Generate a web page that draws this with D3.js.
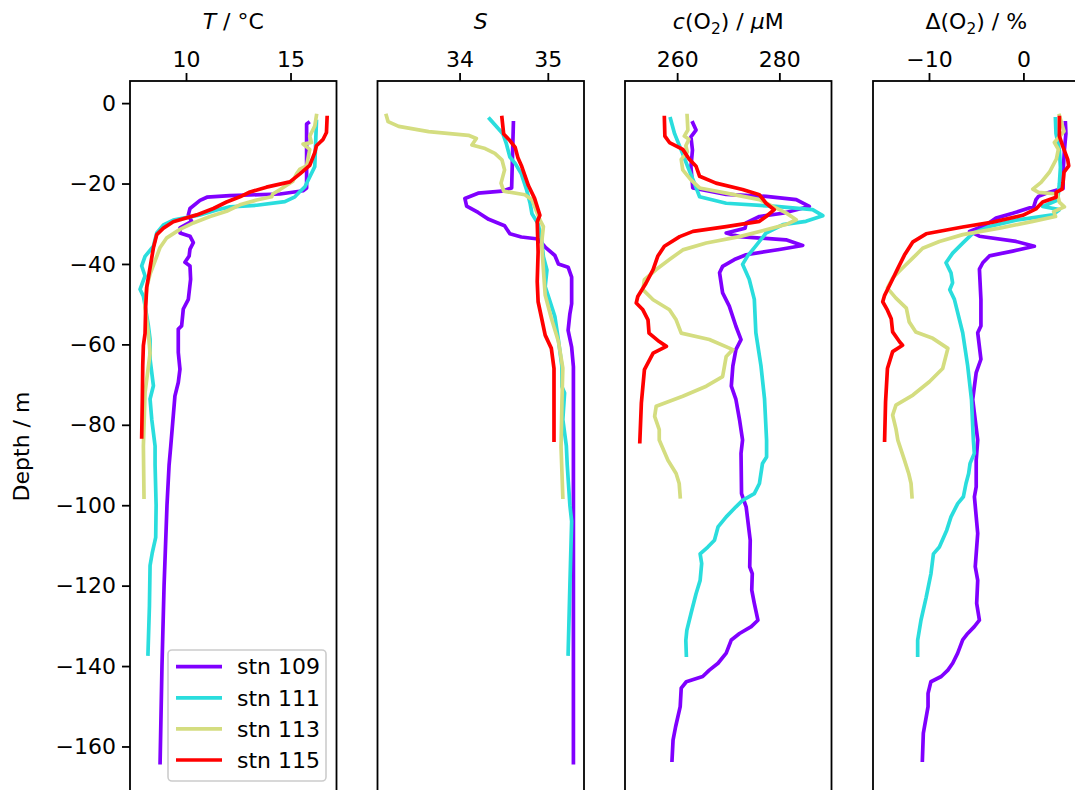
<!DOCTYPE html>
<html>
<head>
<meta charset="utf-8">
<script src="https://cdn.jsdelivr.net/npm/d3@7"></script>
<style>
  html, body { margin: 0; padding: 0; background: #fff; }
  svg { display: block; font-family: "DejaVu Sans", sans-serif; }
</style>
</head>
<body>
<svg id="chart" width="1075" height="790"></svg>
<script>
// Station profiles: [depth (m), value] pairs
const stations = ["stn 109", "stn 111", "stn 113", "stn 115"];
const stationColors = ["#8000ff", "#2adddd", "#d4dd80", "#ff0000"];
const depthTicks = [0, -20, -40, -60, -80, -100, -120, -140, -160];

// Temperature (°C)
const temp109 = [[-4.9,15.85],[-5.2,15.77],[-21.1,15.77],[-21.8,15.6],[-22.6,14.5],[-23.0,12.1],[-23.4,11.0],[-24.2,10.67],[-26.2,10.19],[-27.8,10.11],[-29.4,10.27],[-31,9.71],[-32.3,9.71],[-33.1,10.19],[-34.7,10.35],[-36.3,10.19],[-38,10.15],[-39.6,9.95],[-40.5,10.19],[-43.8,10.22],[-48.8,10.11],[-51.2,9.87],[-55.4,9.79],[-56.2,9.63],[-62,9.63],[-66.2,9.71],[-69.5,9.63],[-72.8,9.47],[-77.8,9.39],[-85.3,9.27],[-90,9.19],[-100,9.09],[-120,8.95],[-140,8.85],[-164,8.76]];
const temp111 = [[-4.6,16.24],[-15.8,16.16],[-20.8,15.69],[-22,15.45],[-23.3,15.21],[-24.5,14.73],[-25.4,13.38],[-25.8,12.1],[-26.6,11.47],[-27.8,10.67],[-29.1,9.39],[-30.3,8.92],[-32.3,8.6],[-35.6,8.44],[-38.1,8.04],[-40.5,7.88],[-43,8.04],[-46.3,7.8],[-48,7.96],[-50.4,8.04],[-55.4,8.2],[-58.7,8.28],[-63.7,8.28],[-70.3,8.44],[-73.6,8.28],[-78.6,8.36],[-85.3,8.52],[-90,8.52],[-100,8.57],[-108,8.55],[-112,8.38],[-115,8.28],[-125,8.25],[-137,8.18]];
const temp113 = [[-3.1,16.24],[-5.7,16.16],[-8.2,15.92],[-9.8,16.0],[-10.2,15.6],[-11.5,15.92],[-15.6,15.77],[-16.4,15.45],[-17.6,15.29],[-19.5,15.1],[-21.5,14.5],[-22.6,14.15],[-23.3,14.1],[-24.1,13.38],[-25.3,12.58],[-26.9,11.94],[-28.2,11.15],[-29.8,10.35],[-31.4,9.71],[-33.5,9.08],[-35.9,8.76],[-39.2,8.52],[-42.5,8.28],[-45.8,8.12],[-50.7,8.04],[-57.3,8.2],[-62.2,8.28],[-65.5,8.2],[-72,8.04],[-85.3,7.96],[-98,7.99]];
const temp115 = [[-3.6,16.75],[-7.3,16.72],[-9,16.56],[-10.6,16.24],[-12.3,16.16],[-15.5,15.92],[-17.6,15.45],[-19.6,14.97],[-20.9,13.85],[-22.1,13.06],[-23.3,12.58],[-24.6,11.94],[-26.2,11.31],[-27.8,10.51],[-29.5,9.39],[-31.1,8.92],[-32.7,8.6],[-36,8.44],[-40.9,8.28],[-45.8,8.12],[-50.7,8.07],[-57.3,8.04],[-60.3,7.96],[-65.2,7.93],[-73.5,7.91],[-83,7.88]];

// Salinity
const sal109 = [[-4.9,34.61],[-21.1,34.59],[-21.9,34.48],[-22.4,34.21],[-23.7,34.06],[-25.6,34.08],[-27.2,34.21],[-28.9,34.33],[-30.5,34.51],[-32.5,34.57],[-33.3,34.7],[-33.8,34.89],[-35.8,34.97],[-37.9,35.08],[-40,35.12],[-40.8,35.23],[-43.3,35.27],[-49.9,35.27],[-52.4,35.25],[-56.5,35.23],[-60.7,35.27],[-65.6,35.29],[-85.3,35.29],[-100,35.29],[-130,35.29],[-164,35.29]];
const sal111 = [[-3.9,34.34],[-5.9,34.42],[-7.6,34.49],[-10.1,34.53],[-13.4,34.57],[-15,34.63],[-17.6,34.7],[-21.6,34.76],[-25,34.8],[-27.5,34.82],[-30,34.89],[-34.1,34.93],[-38.2,34.95],[-41.5,34.99],[-45.6,34.97],[-49,35.02],[-53.1,35.08],[-58.9,35.12],[-65.5,35.16],[-70.5,35.16],[-72.1,35.19],[-78.7,35.17],[-85.3,35.21],[-90,35.22],[-100,35.25],[-104,35.27],[-120,35.25],[-137,35.23]];
const sal113 = [[-3.1,33.17],[-4.6,33.19],[-5.8,33.31],[-7.1,33.65],[-8,34.1],[-8.8,34.19],[-10.4,34.14],[-11.3,34.29],[-12.5,34.4],[-14.1,34.48],[-16.6,34.51],[-19.9,34.47],[-21.9,34.5],[-22.8,34.74],[-24,34.82],[-29,34.91],[-30.7,34.95],[-34.8,34.93],[-41.5,34.95],[-47.7,34.97],[-53.5,35.04],[-59.3,35.12],[-65.9,35.17],[-74.2,35.16],[-85.6,35.15],[-98,35.17]];
const sal115 = [[-3.6,34.48],[-7.7,34.5],[-9.3,34.57],[-11,34.63],[-13.5,34.66],[-15.5,34.7],[-20.5,34.78],[-23.7,34.85],[-27.9,34.91],[-29.5,34.88],[-37,34.89],[-44.4,34.88],[-49.4,34.89],[-53.5,34.93],[-57.7,34.97],[-61,35.04],[-66,35.07],[-83.8,35.07]];

// Dissolved oxygen concentration (µM)
const oxy109 = [[-4.9,263.06],[-6.7,263.7],[-8.4,262.7],[-11.7,263],[-15.8,262.7],[-21.1,263.06],[-22.7,269.6],[-23.2,277.4],[-24,283.3],[-25.7,285.86],[-27.4,280.65],[-28.2,276.1],[-29.8,273.5],[-31.1,273.3],[-32.3,269.6],[-33.2,272.2],[-34,281.3],[-35.4,284.56],[-36.4,280],[-37.7,273.5],[-38.9,271.2],[-40.6,268.9],[-42.2,268.3],[-47.2,268.9],[-50.5,270.2],[-55.5,271.5],[-58.8,272.5],[-61.3,271.5],[-65.4,270.9],[-70.4,270.6],[-73.7,271.5],[-78.7,272.2],[-83.8,272.8],[-87.1,272.5],[-97.1,272.6],[-100.4,273.5],[-108.7,274.3],[-115.3,274.2],[-117,274.7],[-121.1,274.6],[-124.4,275.1],[-128.6,275.8],[-130.2,274.5],[-131.9,272.2],[-133.5,270.6],[-136.8,269.6],[-139.3,268],[-141,266.3],[-142.6,265],[-143.9,261.8],[-145.5,260.8],[-150.1,260.6],[-155.1,259.7],[-158.4,259.2],[-163.4,259]];
const oxy111 = [[-3.9,258.7],[-7.6,259.5],[-11.7,260.8],[-15.9,262.1],[-20,263.4],[-23.3,264.4],[-24.9,269.6],[-25.7,279.3],[-26.5,286.5],[-28,288.5],[-29.4,285.2],[-30.2,280.7],[-32.3,277.4],[-35.5,275.4],[-38,273.8],[-40.1,272.8],[-43.8,274.1],[-48.8,275.1],[-57.1,275.4],[-65.3,276.4],[-73.6,277.1],[-83.8,277.5],[-88,277.5],[-89.6,276.7],[-94.6,276.1],[-97.1,275.1],[-98.8,272.8],[-100.4,271.5],[-102.9,269.6],[-105.4,268],[-108.7,267.3],[-110.4,266],[-112.1,264.5],[-114.5,264.8],[-118.7,264.5],[-122,263.7],[-127,262.7],[-131.1,261.9],[-133.6,261.7],[-137.3,261.8]];
const oxy113 = [[-3.1,261.95],[-6.7,262.1],[-8.2,261.4],[-9,262.3],[-10.6,261.7],[-12.2,262],[-14,260.8],[-16.6,261.1],[-19.1,262.7],[-21.1,264.4],[-22.4,269.6],[-24,276.1],[-25.7,278.7],[-27.3,281.3],[-29,283.3],[-30.2,281.3],[-31.5,277.4],[-33.2,272.2],[-34.8,265.7],[-36.5,261.1],[-38.9,258.5],[-41.4,255.9],[-43.9,253.6],[-46.4,253.3],[-48.9,255.3],[-51.4,258.5],[-53.9,259.8],[-57.2,260.8],[-58.8,266.3],[-61.3,270.9],[-63,269.6],[-68,268.9],[-70.4,265.7],[-72.9,261.1],[-75.4,255.9],[-77.9,255.6],[-81.2,256.5],[-83.8,256.5],[-88.8,258.2],[-92.1,259.8],[-94.6,260.4],[-97.9,260.6]];
const oxy115 = [[-3.6,257.5],[-8.2,257.6],[-9.8,258.5],[-11.5,261.1],[-14,262.4],[-15.7,263.7],[-18.2,264.4],[-19.9,267.6],[-21.5,272.8],[-22.8,276.1],[-24.9,277.4],[-26.5,279],[-28.2,277.4],[-29.4,276.1],[-30.7,269.6],[-31.9,263.1],[-33.2,260.5],[-35.6,257.5],[-38.1,256.2],[-41.4,255.3],[-44.8,253.9],[-48.1,252.3],[-49.7,252],[-51.4,253.3],[-53.9,254.3],[-57.2,254.5],[-59.3,256.5],[-60.5,257.9],[-62.2,255.3],[-66.3,253.6],[-74.6,253],[-84.2,252.7]];

// Oxygen saturation anomaly (%)
const sat109 = [[-4.9,4.45],[-7.6,4.5],[-11.7,4.34],[-15.8,4.24],[-21.2,4.2],[-22.4,2.4],[-23.2,1.6],[-24,1.33],[-25.7,1.1],[-27.4,-1.13],[-28.6,-2.9],[-30.3,-3.96],[-31.9,-5.7],[-33.1,-4.66],[-34.4,-0.78],[-35.6,1.16],[-36.8,-1.13],[-38,-3.6],[-39.7,-4.3],[-41.3,-4.66],[-48.8,-4.5],[-55.4,-4.5],[-57.1,-4.84],[-63.7,-4.5],[-67,-5.0],[-73.7,-5.37],[-83.8,-4.84],[-88.8,-5.0],[-95.4,-5.0],[-97.9,-5.19],[-107,-4.84],[-115.3,-5.1],[-118.7,-4.84],[-124.4,-4.95],[-128.6,-4.66],[-130.2,-5.2],[-131.9,-5.9],[-133.5,-6.43],[-136.8,-6.96],[-139.3,-7.49],[-141,-8.0],[-142.6,-8.7],[-143.9,-9.8],[-146.8,-10.1],[-150.1,-10.1],[-156.7,-10.6],[-163.4,-10.7]];
const sat111 = [[-3.9,3.39],[-7.6,3.45],[-11.7,3.81],[-15.9,3.92],[-20,3.81],[-24.1,3.63],[-25.7,2.04],[-26.5,3.81],[-27.8,3.1],[-29.1,-0.78],[-30.7,-3.6],[-32.4,-5.37],[-34.8,-6.43],[-37.3,-7.49],[-39.7,-8.2],[-42.2,-7.67],[-44.7,-7.5],[-46.4,-7.8],[-48.8,-7.31],[-57.1,-6.43],[-65.4,-5.9],[-73.7,-5.5],[-83.8,-5.3],[-87.1,-5.2],[-89.6,-5.65],[-92.1,-5.8],[-94.6,-6.08],[-97.9,-6.36],[-99.6,-6.96],[-102.9,-7.67],[-106.2,-8.12],[-110.4,-8.9],[-112.1,-9.53],[-117,-9.79],[-122.9,-10.3],[-128.6,-10.85],[-133.6,-11.2],[-137.3,-11.2]];
const sat113 = [[-3.1,3.81],[-7,4.3],[-9.8,3.28],[-11.5,3.7],[-13.9,3.49],[-17.2,2.75],[-19.7,1.87],[-21.4,0.99],[-22.2,1.6],[-22.6,3.6],[-24.6,3.8],[-25.8,4.34],[-27,3.2],[-28.2,3.4],[-29.4,1.0],[-31.1,-2.54],[-32.7,-6.43],[-34.4,-8.9],[-36.1,-10.67],[-38.5,-11.7],[-41,-12.8],[-43.5,-13.85],[-46,-14.4],[-48.5,-13.5],[-51,-12.4],[-54.4,-12.1],[-56.9,-11.4],[-58.5,-9.6],[-61,-8.0],[-66,-8.55],[-69.3,-9.96],[-72.6,-11.7],[-75.1,-13.5],[-77.6,-13.85],[-81,-13.5],[-83.8,-13.3],[-88.8,-12.6],[-92.1,-12.15],[-94.6,-11.9],[-97.9,-11.8]];
const sat115 = [[-3.6,3.81],[-8.2,3.81],[-10.7,4.16],[-14,4.69],[-15.6,4.8],[-17.2,4.3],[-19.7,4.2],[-21.4,4.1],[-22.2,3.46],[-23.4,3.46],[-24.6,2.04],[-26.3,1.33],[-27.9,-0.07],[-29.6,-3.25],[-30.8,-6.43],[-32.5,-10.3],[-34.5,-11.7],[-37.8,-12.6],[-41.1,-13.3],[-44.5,-14.0],[-47.8,-14.7],[-49.4,-14.9],[-51.5,-14.4],[-53.6,-14.0],[-56.9,-13.85],[-59.4,-13.1],[-60.2,-12.8],[-61.8,-13.85],[-66,-14.4],[-74.3,-14.6],[-83.8,-14.7]];

// Panel definitions
const panels = [
  { series: [temp109, temp111, temp113, temp115], domain: [7.32, 17.2], ticks: [10, 15] },
  { series: [sal109, sal111, sal113, sal115], domain: [33.07, 35.41], ticks: [34, 35] },
  { series: [oxy109, oxy111, oxy113, oxy115], domain: [249.8, 290.2], ticks: [260, 280] },
  { series: [sat109, sat111, sat113, sat115], domain: [-15.93, 5.94], ticks: [-10, 0] }
];

// Panel titles as text runs (italic / subscript)
const titles = [
  [{t: "T", i: true}, {t: " / °C"}],
  [{t: "S", i: true}],
  [{t: "c", i: true}, {t: "(O"}, {t: "2", sub: true}, {t: ") / ", after: true}, {t: "μ", i: true}, {t: "M"}],
  [{t: "Δ(O"}, {t: "2", sub: true}, {t: ") / %", after: true}]
];

const FONT = 22;
const LINE_W = 3.7;
const svg = d3.select("#chart");
const plotTop = 81, plotBottom = 808;
const panelW = 206.5;
const panelLeft = [130, 377.5, 625, 873];
const fmt = d3.format("d");

const y = d3.scaleLinear().domain([5.5, -175.3]).range([plotTop, plotBottom]);

panels.forEach((p, k) => {
  const x0 = panelLeft[k];
  const x = d3.scaleLinear().domain(p.domain).range([x0, x0 + panelW]);
  const g = svg.append("g");

  g.append("clipPath").attr("id", "clip" + k)
    .append("rect").attr("x", x0).attr("y", plotTop).attr("width", panelW).attr("height", plotBottom - plotTop);

  const line = d3.line().x(d => x(d[1])).y(d => y(d[0]));
  p.series.forEach((s, i) => {
    g.append("path")
      .datum(s)
      .attr("clip-path", `url(#clip${k})`)
      .attr("fill", "none")
      .attr("stroke", stationColors[i])
      .attr("stroke-width", LINE_W)
      .attr("stroke-linejoin", "round")
      .attr("stroke-linecap", "square")
      .attr("d", line);
  });

  // frame
  g.append("rect")
    .attr("x", x0).attr("y", plotTop).attr("width", panelW).attr("height", plotBottom - plotTop)
    .attr("fill", "none").attr("stroke", "#000").attr("stroke-width", 1.8);

  // top axis
  const ax = g.append("g").attr("transform", `translate(0,${plotTop})`)
    .call(d3.axisTop(x).tickValues(p.ticks).tickFormat(fmt).tickSize(8).tickPadding(6));
  ax.select(".domain").remove();
  ax.selectAll(".tick line").attr("stroke", "#000").attr("stroke-width", 1.8);
  ax.selectAll(".tick text").attr("font-size", FONT).attr("font-family", "DejaVu Sans").attr("fill", "#000");

  // title
  const tt = g.append("text")
    .attr("x", x0 + panelW / 2).attr("y", 29)
    .attr("text-anchor", "middle")
    .attr("font-size", FONT).attr("fill", "#000");
  titles[k].forEach(run => {
    const ts = tt.append("tspan").text(run.t);
    if (run.i) ts.attr("font-style", "italic");
    if (run.sub) ts.attr("font-size", FONT * 0.7).attr("dy", 5);
    if (run.after) ts.attr("dy", -5);
  });
});

// depth axis on the first panel
const yAxis = svg.append("g").attr("transform", `translate(${panelLeft[0]},0)`)
  .call(d3.axisLeft(y).tickValues(depthTicks).tickFormat(fmt).tickSize(8).tickPadding(6));
yAxis.select(".domain").remove();
yAxis.selectAll(".tick line").attr("stroke", "#000").attr("stroke-width", 1.8);
yAxis.selectAll(".tick text").attr("font-size", FONT).attr("font-family", "DejaVu Sans").attr("fill", "#000");

svg.append("text")
  .attr("transform", `translate(29,${(plotTop + plotBottom) / 2 + 2}) rotate(-90)`)
  .attr("text-anchor", "middle")
  .attr("font-size", FONT).attr("fill", "#000")
  .text("Depth / m");

// legend
const lg = svg.append("g");
lg.append("rect")
  .attr("x", 168).attr("y", 650).attr("width", 158).attr("height", 131)
  .attr("rx", 4).attr("fill", "#fff").attr("fill-opacity", 0.8)
  .attr("stroke", "#cccccc").attr("stroke-width", 1.6);
stations.forEach((name, i) => {
  const yy = 666.7 + i * 31.1;
  lg.append("line").attr("x1", 176).attr("x2", 222).attr("y1", yy).attr("y2", yy)
    .attr("stroke", stationColors[i]).attr("stroke-width", LINE_W);
  lg.append("text").attr("x", 237).attr("y", yy).attr("dy", "0.35em")
    .attr("font-size", FONT).attr("fill", "#000").text(name);
});
</script>
</body>
</html>
